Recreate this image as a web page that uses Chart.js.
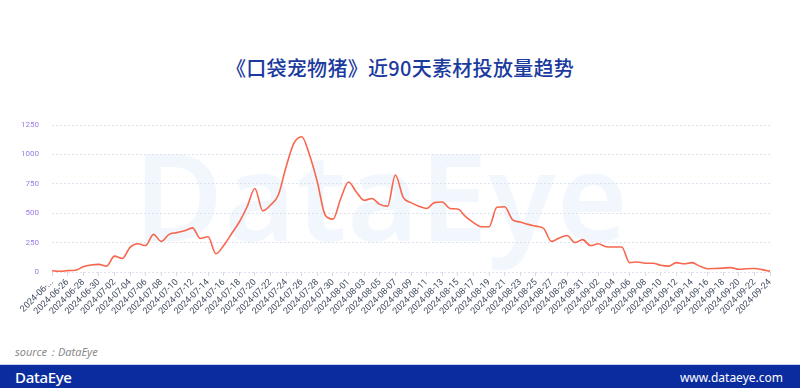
<!DOCTYPE html>
<html lang="zh">
<head>
<meta charset="UTF-8">
<title>口袋宠物猪 素材投放量趋势</title>
<script src="https://cdn.jsdelivr.net/npm/chart.js"></script>
<style>
    html, body { margin: 0; padding: 0; background: #fff; }
    #page { position: relative; width: 800px; height: 388px; overflow: hidden; background: #fff; }
    #titulo {
        position: absolute; top: 53px; left: 0; width: 800px; text-align: center;
        font-family: "Noto Sans CJK SC", sans-serif; font-weight: 500; font-size: 20px;
        color: #1b3a9e; letter-spacing: 0.3px;
    }
    #marca {
        position: absolute; left: 134px; top: 133px;
        font-family: "Noto Sans", sans-serif; font-size: 122px; font-weight: 600;
        color: #f1f7fd; letter-spacing: 1px; line-height: 1;
    }
    #grafico { position: absolute; left: 0; top: 100px; width: 800px; height: 235px; }
    #fonte {
        position: absolute; left: 15px; top: 344px;
        font-family: "Noto Sans", sans-serif; font-style: italic; font-size: 11px; color: #8a8a8a;
    }
    #rodape {
        position: absolute; left: 0; top: 364px; width: 800px; height: 24px;
        background: #0b2c9f; border-top: 1px solid #c9d2ee;
    }
    #logo {
        position: absolute; left: 15px; top: 2px; color: #fff;
        font-family: "Noto Sans", sans-serif; font-size: 15px; font-weight: 500; letter-spacing: -0.3px;
    }
    #site {
        position: absolute; right: 17px; top: 4px; color: #fff;
        font-family: "Noto Sans", sans-serif; font-size: 12px;
    }
</style>
</head>
<body>
<div id="page">
    <div id="marca">DataEye</div>
    <div id="titulo">《口袋宠物猪》近90天素材投放量趋势</div>
    <canvas id="grafico" width="800" height="235"></canvas>
    <div id="fonte">source：DataEye</div>
    <div id="rodape">
        <div id="logo">DataEye</div>
        <div id="site">www.dataeye.com</div>
    </div>
</div>

<script>
    // datas (categorias)
    const datas = [
        '2024-06-24', '2024-06-25', '2024-06-26', '2024-06-27', '2024-06-28', '2024-06-29', '2024-06-30',
        '2024-07-01', '2024-07-02', '2024-07-03', '2024-07-04', '2024-07-05', '2024-07-06', '2024-07-07',
        '2024-07-08', '2024-07-09', '2024-07-10', '2024-07-11', '2024-07-12', '2024-07-13', '2024-07-14',
        '2024-07-15', '2024-07-16', '2024-07-17', '2024-07-18', '2024-07-19', '2024-07-20', '2024-07-21',
        '2024-07-22', '2024-07-23', '2024-07-24', '2024-07-25', '2024-07-26', '2024-07-27', '2024-07-28',
        '2024-07-29', '2024-07-30', '2024-07-31', '2024-08-01', '2024-08-02', '2024-08-03', '2024-08-04',
        '2024-08-05', '2024-08-06', '2024-08-07', '2024-08-08', '2024-08-09', '2024-08-10', '2024-08-11',
        '2024-08-12', '2024-08-13', '2024-08-14', '2024-08-15', '2024-08-16', '2024-08-17', '2024-08-18',
        '2024-08-19', '2024-08-20', '2024-08-21', '2024-08-22', '2024-08-23', '2024-08-24', '2024-08-25',
        '2024-08-26', '2024-08-27', '2024-08-28', '2024-08-29', '2024-08-30', '2024-08-31', '2024-09-01',
        '2024-09-02', '2024-09-03', '2024-09-04', '2024-09-05', '2024-09-06', '2024-09-07', '2024-09-08',
        '2024-09-09', '2024-09-10', '2024-09-11', '2024-09-12', '2024-09-13', '2024-09-14', '2024-09-15',
        '2024-09-16', '2024-09-17', '2024-09-18', '2024-09-19', '2024-09-20', '2024-09-21', '2024-09-22',
        '2024-09-23', '2024-09-24'
    ];

    // quantidade de materiais por dia
    const quantidade = [
        10, 5, 12, 15, 45, 60, 65,
        50, 135, 115, 210, 240, 225, 320,
        260, 320, 335, 350, 375, 285, 300,
        155, 225, 325, 425, 555, 710, 520,
        570, 655, 895, 1095, 1150, 995, 765,
        485, 450, 625, 765, 680, 610, 625,
        575, 560, 825, 635, 590, 560, 540,
        590, 595, 540, 535, 470, 420, 385,
        385, 550, 555, 445, 425, 405, 390,
        370, 260, 290, 310, 250, 275, 225,
        240, 215, 213, 213, 80, 85, 75,
        75, 57, 50, 80, 70, 80, 50,
        28, 30, 33, 37, 23, 28, 30,
        20, 6
    ];

    const ticksY = [0, 250, 500, 750, 1000, 1250];

    function rotuloX(i) {
        if (i % 2 !== 0) return '';
        if (i === 0) return '2024-06-...';
        return datas[i];
    }

    const ctx = document.getElementById('grafico').getContext('2d');
    new Chart(ctx, {
        type: 'line',
        data: {
            labels: datas,
            datasets: [{
                label: '素材投放量',
                data: quantidade,
                borderColor: '#f8664d',
                borderWidth: 1.6,
                pointRadius: 0,
                fill: false,
                cubicInterpolationMode: 'monotone'
            }]
        },
        options: {
            responsive: false,
            animation: false,
            layout: { padding: { left: 12, right: 30, top: 25, bottom: 0 } },
            plugins: {
                legend: { display: false },
                tooltip: { enabled: false }
            },
            scales: {
                x: {
                    offset: false,
                    afterFit: function (s) { s.height = 63; },
                    border: { display: false },
                    grid: {
                        drawOnChartArea: false,
                        drawTicks: true,
                        tickLength: 4,
                        color: function (c) { return c.index % 2 === 0 ? '#d4dbe8' : 'rgba(0,0,0,0)'; }
                    },
                    ticks: {
                        autoSkip: false,
                        maxRotation: 45,
                        minRotation: 45,
                        padding: 1,
                        color: '#3f4b5e',
                        font: { family: 'Roboto, sans-serif', size: 9 },
                        callback: function (v, i) { return rotuloX(i); }
                    }
                },
                y: {
                    min: 0,
                    max: 1250,
                    afterFit: function (s) { s.width = 40; },
                    afterBuildTicks: function (s) { s.ticks = ticksY.map(function (v) { return { value: v }; }); },
                    grid: {
                        drawTicks: false,
                        color: '#dde3ee',
                        lineWidth: 1
                    },
                    border: { display: false, dash: [2, 2] },
                    ticks: {
                        padding: 13,
                        color: '#9a7fe3',
                        font: { family: 'Roboto, sans-serif', size: 8 },
                        callback: function (v) { return String(v); }
                    }
                }
            }
        }
    });
</script>
</body>
</html>
